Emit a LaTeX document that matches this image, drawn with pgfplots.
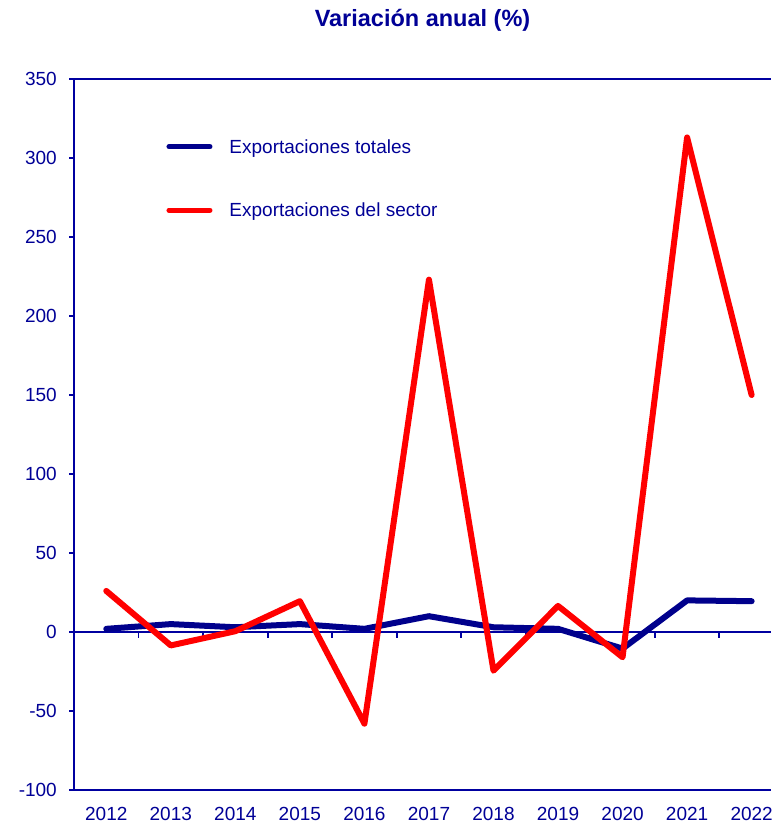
\documentclass[border=0pt]{standalone}
\usepackage{fontspec}
\setmainfont{Liberation Sans}
\usepackage{pgfplots}
\pgfplotsset{compat=1.18}
\definecolor{textblue}{RGB}{0,0,150}
\definecolor{axisblue}{RGB}{0,0,160}
\definecolor{lineblue}{RGB}{0,0,140}
\definecolor{linered}{RGB}{255,0,0}
\begin{document}
\begin{tikzpicture}
\begin{axis}[
  name=ax,
  scale only axis,
  width=697pt, height=711pt,
  xmin=-0.5, xmax=10.3, ymin=-100, ymax=350,
  axis x line=box, axis y line=left,
  axis line style={-, draw=axisblue, line width=1.8pt},
  every outer y axis line/.append style={-},
  every outer x axis line/.append style={-},
  xtick={0,...,10},
  xticklabels={2012,2013,2014,2015,2016,2017,2018,2019,2020,2021,2022},
  ytick={-100,-50,...,350},
  xtick style={draw=none},
  ytick style={draw=axisblue, line width=1.8pt},
  tick align=outside, major tick length=5pt,
  tick label style={text=textblue, font=\fontsize{19}{22}\selectfont},
  /pgf/number format/assume math mode=true,
  xticklabel style={anchor=base, yshift=-25pt},
  yticklabel style={anchor=east, inner sep=0pt, xshift=-12pt},
  legend style={at={(axis cs:0.93,312)}, anchor=north west, draw=none, fill=none,
    font=\fontsize{19}{22}\selectfont, text=textblue, inner sep=0pt,
    nodes={inner sep=0pt}, column sep=17pt, row sep=48pt},
  legend cell align=left,
  legend image code/.code={\draw[#1, line width=5pt, line cap=round] (0pt,0pt) -- (41pt,0pt);},
]
\draw[axisblue, line width=1.8pt] (axis cs:-0.5,0) -- (axis cs:10.3,0);
\pgfplotsinvokeforeach{0.5,1.5,2.5,3.5,4.5,5.5,6.5,7.5,8.5,9.5}{
  \draw[axisblue, line width=1.8pt] (axis cs:#1,0) -- ([yshift=-6pt]axis cs:#1,0);
}
\addplot[lineblue, line width=6pt, line cap=round, line join=round] coordinates {
  (0,2) (1,5) (2,3) (3,5) (4,2) (5,10) (6,3) (7,2) (8,-10.5) (9,20) (10,19.5)
};
\addlegendentry{Exportaciones totales}
\addplot[linered, line width=6pt, line cap=round, line join=round] coordinates {
  (0,26) (1,-8.5) (2,0.5) (3,19.5) (4,-58) (5,223) (6,-24.5) (7,16.5) (8,-16) (9,313) (10,150)
};
\addlegendentry{Exportaciones del sector}
\end{axis}
\node[font=\bfseries\fontsize{23.5}{27}\selectfont, text=textblue, anchor=base] at ([yshift=52pt]ax.north) {Variación anual (\%)};
\pgfresetboundingbox
\path ([xshift=-74pt,yshift=-34pt]ax.south west) rectangle ([yshift=79pt]ax.north east);
\end{tikzpicture}
\end{document}
